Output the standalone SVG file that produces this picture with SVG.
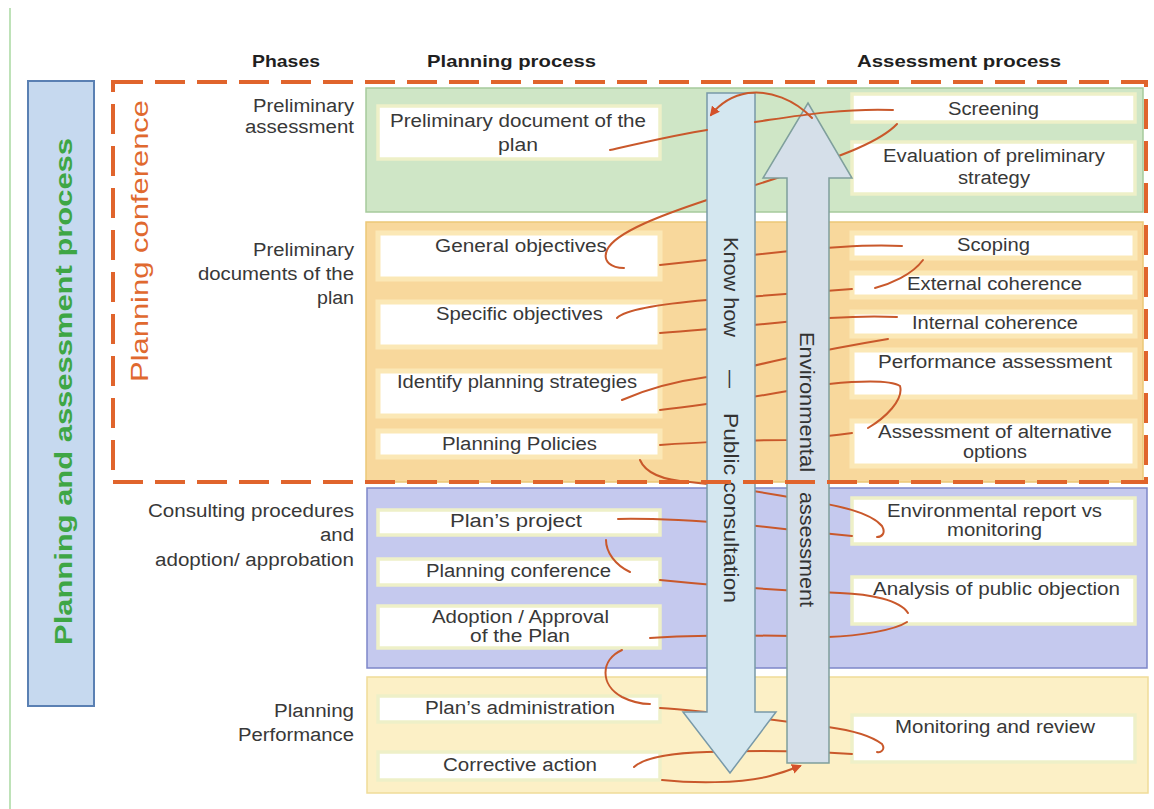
<svg xmlns="http://www.w3.org/2000/svg" width="1154" height="809" viewBox="0 0 1154 809">
  <defs>
    <style>
      .band-green{fill:#cfe6c6;stroke:#a6ca9c;stroke-width:1.5}
      .band-orange{fill:#f8d89c;stroke:#ecc877;stroke-width:1.5}
      .band-blue{fill:#c5c9ee;stroke:#7d86c9;stroke-width:1.5}
      .band-yellow{fill:#fcf0c6;stroke:#f0dc98;stroke-width:1.5}
      .box{fill:#ffffff;stroke:#eef0c8;stroke-width:3.5}
      .box-o{fill:#ffffff;stroke:#fbe8b6;stroke-width:5}
      .t{font-family:"Liberation Sans",Arial,sans-serif;font-size:18px;fill:#383838;text-anchor:middle}
      .ph{font-family:"Liberation Sans",Arial,sans-serif;font-size:18px;fill:#383838;text-anchor:end}
      .hdr{font-family:"Liberation Sans",Arial,sans-serif;font-size:17px;font-weight:bold;fill:#1f1f1f;text-anchor:middle}
      .vt{font-family:"Liberation Sans",Arial,sans-serif;font-size:20px;fill:#333333;text-anchor:middle}
      .conn{fill:none;stroke:#c9582b;stroke-width:2;stroke-linecap:round}
    </style>
    <marker id="head" viewBox="0 0 10 10" refX="8" refY="5" markerWidth="5" markerHeight="5" orient="auto">
      <path d="M0,0 L10,5 L0,10 z" fill="#d4512a"/>
    </marker>
  </defs>

  <rect width="1154" height="809" fill="#ffffff"/>
  <line x1="10" y1="8" x2="10" y2="809" stroke="#a9d8a1" stroke-width="1.5"/>

  <!-- outer process frame -->
  <g id="process-frame">
    <rect x="28" y="81" width="66" height="625" fill="#c6d9ef" stroke="#5a80b3" stroke-width="2"/>
    <text class="vt" transform="translate(72,391.5) rotate(-90)" style="font-size:24px;font-weight:bold;fill:#3ea645" textLength="507" lengthAdjust="spacingAndGlyphs">Planning and assessment process</text>
  </g>

  <!-- column headers -->
  <g id="headers">
    <text class="hdr" x="286" y="67" textLength="68" lengthAdjust="spacingAndGlyphs">Phases</text>
    <text class="hdr" x="511.5" y="67" textLength="169" lengthAdjust="spacingAndGlyphs">Planning process</text>
    <text class="hdr" x="959" y="67" textLength="204" lengthAdjust="spacingAndGlyphs">Assessment process</text>
  </g>

  <!-- phase bands -->
  <g id="bands">
    <rect class="band-green" x="366" y="88" width="777" height="124"/>
    <rect class="band-orange" x="366" y="222" width="777" height="260"/>
    <rect class="band-blue" x="367" y="488" width="780" height="180"/>
    <rect class="band-yellow" x="367" y="677" width="781" height="116"/>
  </g>

  <!-- phase labels -->
  <g id="phases">
    <text class="ph" x="354" y="112" textLength="101" lengthAdjust="spacingAndGlyphs">Preliminary</text>
    <text class="ph" x="354" y="133" textLength="109" lengthAdjust="spacingAndGlyphs">assessment</text>
    <text class="ph" x="354" y="256" textLength="101" lengthAdjust="spacingAndGlyphs">Preliminary</text>
    <text class="ph" x="354" y="280" textLength="156" lengthAdjust="spacingAndGlyphs">documents of the</text>
    <text class="ph" x="354" y="304" textLength="37" lengthAdjust="spacingAndGlyphs">plan</text>
    <text class="ph" x="354" y="517" textLength="206" lengthAdjust="spacingAndGlyphs">Consulting procedures</text>
    <text class="ph" x="354" y="541" textLength="34" lengthAdjust="spacingAndGlyphs">and</text>
    <text class="ph" x="354" y="566" textLength="199" lengthAdjust="spacingAndGlyphs">adoption/ approbation</text>
    <text class="ph" x="354" y="717" textLength="80" lengthAdjust="spacingAndGlyphs">Planning</text>
    <text class="ph" x="354" y="741" textLength="116" lengthAdjust="spacingAndGlyphs">Performance</text>
  </g>

  <!-- planning process nodes -->
  <g id="prelim-doc"><rect class="box" x="378" y="106" width="282" height="53"/>
    <text class="t" x="518" y="127" textLength="256" lengthAdjust="spacingAndGlyphs">Preliminary document of the</text>
    <text class="t" x="518" y="151" textLength="40" lengthAdjust="spacingAndGlyphs">plan</text></g>
  <g id="general-objectives"><rect class="box-o" x="378" y="233" width="282" height="46"/>
    <text class="t" x="521" y="252" textLength="172" lengthAdjust="spacingAndGlyphs">General objectives</text></g>
  <g id="specific-objectives"><rect class="box-o" x="378" y="302" width="282" height="45"/>
    <text class="t" x="519.5" y="320" textLength="167" lengthAdjust="spacingAndGlyphs">Specific objectives</text></g>
  <g id="planning-strategies"><rect class="box-o" x="378" y="371" width="282" height="45"/>
    <text class="t" x="517" y="388" textLength="240" lengthAdjust="spacingAndGlyphs">Identify planning strategies</text></g>
  <g id="planning-policies"><rect class="box-o" x="378" y="431" width="282" height="26"/>
    <text class="t" x="519.5" y="450" textLength="155" lengthAdjust="spacingAndGlyphs">Planning Policies</text></g>
  <g id="plans-project"><rect class="box" x="378" y="510" width="282" height="25"/>
    <text class="t" x="516" y="527" textLength="132" lengthAdjust="spacingAndGlyphs">Plan’s project</text></g>
  <g id="planning-conference-node"><rect class="box" x="378" y="559" width="282" height="26"/>
    <text class="t" x="518.5" y="577" textLength="185" lengthAdjust="spacingAndGlyphs">Planning conference</text></g>
  <g id="adoption"><rect class="box" x="378" y="606" width="282" height="42"/>
    <text class="t" x="520.5" y="623" textLength="177" lengthAdjust="spacingAndGlyphs">Adoption / Approval</text>
    <text class="t" x="520" y="642" textLength="100" lengthAdjust="spacingAndGlyphs">of the Plan</text></g>
  <g id="plans-administration"><rect class="box" x="378" y="696" width="282" height="26"/>
    <text class="t" x="520" y="714" textLength="190" lengthAdjust="spacingAndGlyphs">Plan’s administration</text></g>
  <g id="corrective-action"><rect class="box" x="378" y="752" width="282" height="28"/>
    <text class="t" x="520" y="771" textLength="154" lengthAdjust="spacingAndGlyphs">Corrective action</text></g>

  <!-- assessment process nodes -->
  <g id="screening"><rect class="box" x="852" y="94" width="283" height="28"/>
    <text class="t" x="993.5" y="115" textLength="91" lengthAdjust="spacingAndGlyphs">Screening</text></g>
  <g id="evaluation"><rect class="box" x="852" y="142" width="283" height="52"/>
    <text class="t" x="994" y="162" textLength="222" lengthAdjust="spacingAndGlyphs">Evaluation of preliminary</text>
    <text class="t" x="994" y="184" textLength="72" lengthAdjust="spacingAndGlyphs">strategy</text></g>
  <g id="scoping"><rect class="box-o" x="852" y="233" width="283" height="25"/>
    <text class="t" x="993.5" y="251" textLength="73" lengthAdjust="spacingAndGlyphs">Scoping</text></g>
  <g id="external-coherence"><rect class="box-o" x="852" y="273" width="283" height="24"/>
    <text class="t" x="994.5" y="290" textLength="175" lengthAdjust="spacingAndGlyphs">External coherence</text></g>
  <g id="internal-coherence"><rect class="box-o" x="852" y="312" width="283" height="24"/>
    <text class="t" x="995" y="329" textLength="166" lengthAdjust="spacingAndGlyphs">Internal coherence</text></g>
  <g id="performance-assessment"><rect class="box-o" x="852" y="350" width="283" height="47"/>
    <text class="t" x="995" y="368" textLength="234" lengthAdjust="spacingAndGlyphs">Performance assessment</text></g>
  <g id="alternative-options"><rect class="box-o" x="852" y="421" width="283" height="45"/>
    <text class="t" x="995" y="438" textLength="234" lengthAdjust="spacingAndGlyphs">Assessment of alternative</text>
    <text class="t" x="995" y="458" textLength="64" lengthAdjust="spacingAndGlyphs">options</text></g>
  <g id="environmental-report"><rect class="box" x="852" y="498" width="283" height="46"/>
    <text class="t" x="994.5" y="517" textLength="215" lengthAdjust="spacingAndGlyphs">Environmental report vs</text>
    <text class="t" x="994.5" y="536" textLength="95" lengthAdjust="spacingAndGlyphs">monitoring</text></g>
  <g id="public-objection"><rect class="box" x="852" y="577" width="283" height="47"/>
    <text class="t" x="996.5" y="595" textLength="247" lengthAdjust="spacingAndGlyphs">Analysis of public objection</text></g>
  <g id="monitoring-review"><rect class="box" x="852" y="715" width="283" height="47"/>
    <text class="t" x="995" y="733" textLength="200" lengthAdjust="spacingAndGlyphs">Monitoring and review</text></g>

  <!-- links running behind the two flow arrows -->
  <g id="connectors" class="conn">
    <path d="M897,124 C880,142 840,156 800,170 C770,181 740,190 707,200 C665,214 615,232 607,250 C602,262 612,268 624,268"/>
    <path d="M660,265 C700,261 750,255 790,251 C830,247 870,244 902,246"/>
    <path d="M617,318 C625,310 660,304 707,300 C760,296 810,292 852,289"/>
    <path d="M875,288 C890,284 912,275 923,260"/>
    <path d="M660,333 C720,329 780,322 829,318 C860,316 880,316 897,317"/>
    <path d="M622,400 C640,392 670,382 707,377 C760,364 810,352 888,339"/>
    <path d="M660,410 C720,404 780,392 829,384 C860,381 890,380 900,386 C904,400 885,418 868,428"/>
    <path d="M660,445 C700,442 760,440 787,440 C810,438 835,435 852,433"/>
    <path d="M640,460 C645,472 660,480 690,482 C720,485 760,492 800,499 C840,506 870,512 882,526 C886,533 882,537 877,537"/>
    <path d="M618,519 C660,518 700,521 740,524 C790,530 830,534 852,536"/>
    <path d="M606,540 C606,552 615,565 630,572"/>
    <path d="M660,580 C720,586 790,591 840,593 C870,594 900,600 908,613"/>
    <path d="M650,638 C700,634 760,635 828,637 C860,636 895,630 907,622"/>
    <path d="M622,650 C600,660 600,685 622,697 C632,702 642,704 650,704"/>
    <path d="M660,708 C700,710 760,718 828,727 C850,730 870,735 882,744 C886,750 880,753 877,752"/>
    <path d="M634,767 C645,757 670,753 707,752 C760,750 810,751 852,754"/>
  </g>

  <!-- flow arrows -->
  <g id="know-how-public-consultation">
    <path d="M707,93 H755 V712 H776 L730,773 L683,712 H707 Z" fill="#d4e7f0" stroke="#7899a8" stroke-width="1.5"/>
    <text class="vt" transform="translate(724,287) rotate(90)" textLength="100" lengthAdjust="spacingAndGlyphs">Know how</text>
    <text class="vt" transform="translate(724,379) rotate(90)" textLength="18" lengthAdjust="spacingAndGlyphs">—</text>
    <text class="vt" transform="translate(724,508) rotate(90)" textLength="190" lengthAdjust="spacingAndGlyphs">Public consultation</text>
  </g>
  <g id="environmental-assessment">
    <path d="M808,103 L852,178 H829 V763 H787 V178 H763 Z" fill="#d5dfe9" stroke="#7f9f9c" stroke-width="1.5"/>
    <text class="vt" transform="translate(800,402) rotate(90)" textLength="140" lengthAdjust="spacingAndGlyphs">Environmental</text>
    <text class="vt" transform="translate(800,549.5) rotate(90)" textLength="115" lengthAdjust="spacingAndGlyphs">assessment</text>
  </g>

  <!-- planning conference frame -->
  <g id="planning-conference">
    <rect x="113" y="82" width="1033" height="400" fill="none" stroke="#e0642c" stroke-width="4" stroke-dasharray="30 12"/>
    <text class="vt" transform="translate(148,241) rotate(-90)" style="font-size:24px;fill:#e0692f" textLength="282" lengthAdjust="spacingAndGlyphs">Planning conference</text>
  </g>

  <!-- links drawn across the arrows -->
  <g id="connectors-front" class="conn">
    <path d="M812,118 C795,100 770,90 748,93 C730,96 718,106 711,115" marker-end="url(#head)"/>
    <path d="M610,150 C650,141 685,133 707,130 M755,122 C790,117 840,108 893,110"/>
    <path d="M662,780 C690,783 740,784 770,776 C785,772 795,768 800,766" marker-end="url(#head)"/>
  </g>
</svg>
